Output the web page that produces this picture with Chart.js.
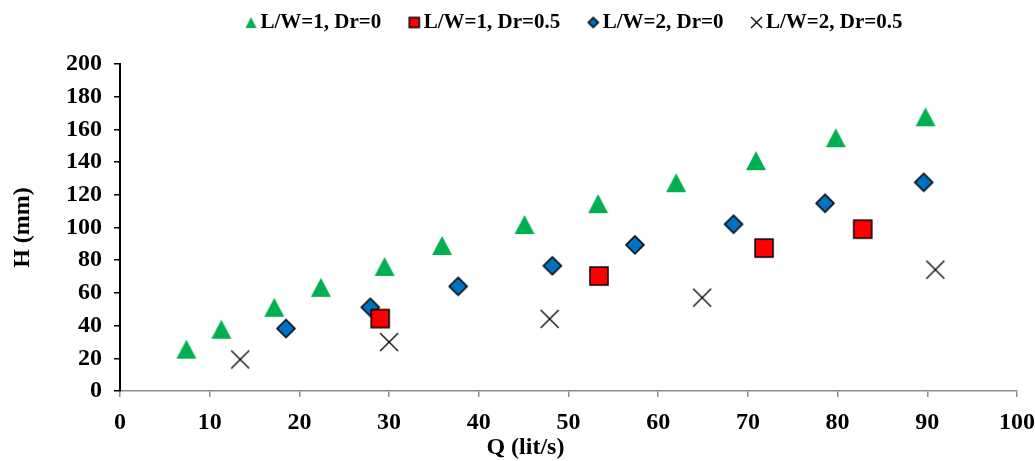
<!DOCTYPE html>
<html>
<head>
<meta charset="utf-8">
<script src="https://cdn.jsdelivr.net/npm/chart.js@4.4.1/dist/chart.umd.min.js"></script>
<style>
  html, body { margin: 0; padding: 0; background: #fff; }
  #wrap { width: 1035px; height: 461px; }
</style>
</head>
<body>
<div id="wrap"><canvas id="chart"></canvas></div>
<script>
const seriesNames = ['L/W=1, Dr=0', 'L/W=1, Dr=0.5', 'L/W=2, Dr=0', 'L/W=2, Dr=0.5'];

// L/W=1, Dr=0 (green triangles)
const q1 = [7.4, 11.3, 17.2, 22.4, 29.5, 35.9, 45.1, 53.3, 62.0, 70.9, 79.8, 89.8];
const h1 = [25.6, 37.8, 51.2, 63.4, 76.2, 89.0, 101.8, 114.6, 127.4, 140.9, 154.9, 167.7];
// L/W=1, Dr=0.5 (red squares)
const q2 = [29.0, 53.4, 71.8, 82.8];
const h2 = [44.3, 70.3, 87.4, 99.0];
// L/W=2, Dr=0 (blue diamonds)
const q3 = [18.5, 27.9, 37.7, 48.2, 57.4, 68.4, 78.6, 89.6];
const h3 = [38.2, 51.2, 64.0, 76.6, 89.4, 102.0, 114.8, 127.6];
// L/W=2, Dr=0.5 (black crosses)
const q4 = [13.4, 30.0, 47.9, 64.9, 90.9];
const h4 = [19.3, 29.9, 44.1, 57.1, 74.2];

const xTicks = [0, 10, 20, 30, 40, 50, 60, 70, 80, 90, 100];
const yTicks = [0, 20, 40, 60, 80, 100, 120, 140, 160, 180, 200];

function toPoints(xs, ys) {
    return xs.map((x, i) => ({ x: x, y: ys[i] }));
}

// excel-like markers drawn on small canvases; shift moves the mark right of the canvas centre
function marker(kind, w, h, shift) {
    shift = shift || 0;
    const pad = 3;
    const c = document.createElement('canvas');
    c.width = Math.round(w + pad * 2 + Math.abs(shift) * 2);
    c.height = Math.round(h + pad * 2);
    const g = c.getContext('2d');
    const cx = c.width / 2 + shift, cy = c.height / 2;
    g.beginPath();
    if (kind === 'triangle') {
        g.moveTo(cx, cy - h / 2);
        g.lineTo(cx + w / 2, cy + h / 2);
        g.lineTo(cx - w / 2, cy + h / 2);
        g.closePath();
        g.fillStyle = '#00B050';
        g.fill();
    } else if (kind === 'square') {
        g.rect(cx - w / 2, cy - h / 2, w, h);
        g.fillStyle = '#FF0000';
        g.fill();
        g.lineWidth = 1.5;
        g.strokeStyle = '#000';
        g.stroke();
    } else if (kind === 'diamond') {
        g.moveTo(cx, cy - h / 2);
        g.lineTo(cx + w / 2, cy);
        g.lineTo(cx, cy + h / 2);
        g.lineTo(cx - w / 2, cy);
        g.closePath();
        g.fillStyle = '#0070C0';
        g.fill();
        g.lineWidth = 1.5;
        g.strokeStyle = '#000';
        g.stroke();
    } else {
        g.moveTo(cx - w / 2, cy - h / 2);
        g.lineTo(cx + w / 2, cy + h / 2);
        g.moveTo(cx + w / 2, cy - h / 2);
        g.lineTo(cx - w / 2, cy + h / 2);
        g.lineWidth = 1.3;
        g.strokeStyle = '#000';
        g.stroke();
    }
    return c;
}

const plotMarks = [marker('triangle', 20, 19), marker('square', 18, 18), marker('diamond', 18, 18), marker('cross', 18, 18)];
const legendMarks = [marker('triangle', 11, 11, 11), marker('square', 10, 10, 11), marker('diamond', 10, 10, 11), marker('cross', 11, 11, 11)];

Chart.defaults.font.family = "'Liberation Serif', 'Times New Roman', serif";
Chart.defaults.font.weight = 'bold';
Chart.defaults.color = '#000';

// put the legend where excel had it
const legendPlace = {
    id: 'legendPlace',
    afterLayout(chart) {
        const lg = chart.legend;
        const dx = 218 - lg.left;
        lg.left += dx; lg.right += dx;
        const dy = 0 - lg.top;
        lg.top += dy; lg.bottom += dy;
    }
};

// x axis title sits a bit left of the middle in the original
const xTitle = {
    id: 'xTitle',
    afterDraw(chart) {
        const ctx = chart.ctx;
        const x = chart.scales.x.getPixelForValue(45.2);
        ctx.save();
        ctx.font = "bold 24px 'Liberation Serif', 'Times New Roman', serif";
        ctx.fillStyle = '#000';
        ctx.textAlign = 'center';
        ctx.textBaseline = 'middle';
        ctx.fillText('Q (lit/s)', x, 448);
        ctx.restore();
    }
};

const datasets = [q1, q2, q3, q4].map((qs, i) => ({
    label: seriesNames[i],
    data: toPoints(qs, [h1, h2, h3, h4][i]),
    pointStyle: plotMarks[i],
    pointRadius: 10,
    showLine: false
}));

new Chart(document.getElementById('chart'), {
    type: 'scatter',
    data: { datasets: datasets },
    plugins: [legendPlace, xTitle],
    options: {
        responsive: true,
        maintainAspectRatio: false,
        animation: false,
        layout: { padding: { left: 0, right: 18, top: 21, bottom: 0 } },
        plugins: {
            tooltip: { enabled: false },
            legend: {
                position: 'top',
                align: 'start',
                labels: {
                    usePointStyle: true,
                    boxWidth: 20,
                    boxHeight: 20,
                    padding: 12,
                    font: { size: 21, weight: 'bold' },
                    color: '#000',
                    generateLabels(chart) {
                        const items = Chart.defaults.plugins.legend.labels.generateLabels(chart);
                        items.forEach((it, i) => { it.pointStyle = legendMarks[i]; });
                        return items;
                    }
                }
            }
        },
        scales: {
            x: {
                type: 'linear',
                min: 0, max: 100,
                afterBuildTicks(scale) { scale.ticks = xTicks.map(v => ({ value: v })); },
                afterFit(scale) { scale.height = 70; scale.paddingLeft = 0; scale.paddingRight = 0; },
                border: { color: '#8c8c8c', width: 1.5 },
                grid: { drawOnChartArea: false, drawTicks: true, tickLength: 6, color: '#8c8c8c', lineWidth: 1.5 },
                ticks: { font: { size: 24, weight: 'bold' }, color: '#000', padding: 11, maxRotation: 0 }
            },
            y: {
                type: 'linear',
                min: 0, max: 200,
                afterBuildTicks(scale) { scale.ticks = yTicks.map(v => ({ value: v })); },
                afterFit(scale) { scale.width = 120; scale.paddingTop = 0; scale.paddingBottom = 0; },
                border: { color: '#000', width: 2 },
                grid: { drawOnChartArea: false, drawTicks: true, tickLength: 6, color: '#000', lineWidth: 1.5 },
                ticks: { font: { size: 24, weight: 'bold' }, color: '#000', padding: 12 },
                title: { display: true, text: 'H (mm)', font: { size: 24, weight: 'bold' }, color: '#000', padding: { top: 8, bottom: 0 } }
            }
        }
    }
});
</script>
</body>
</html>
